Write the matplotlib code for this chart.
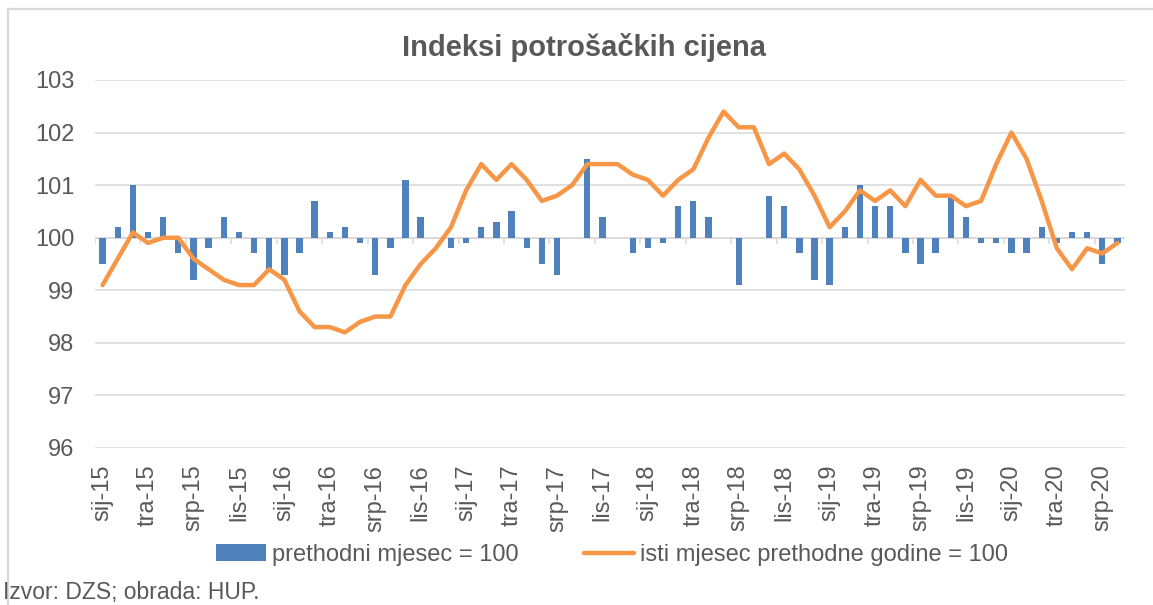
import numpy as np
import matplotlib.pyplot as plt
from matplotlib.lines import Line2D

# mjesečni podaci sij-15 ... kol-20
months = ['sij', 'velj', 'ožu', 'tra', 'svi', 'lip', 'srp', 'kol', 'ruj', 'lis', 'stu', 'pro']
years = [15, 16, 17, 18, 19, 20]
labels = [f'{m}-{y}' for y in years for m in months][:68]

prethodni = [99.5, 100.2, 101.0, 100.1, 100.4, 99.7, 99.2, 99.8, 100.4, 100.1, 99.7, 99.4,
             99.3, 99.7, 100.7, 100.1, 100.2, 99.9, 99.3, 99.8, 101.1, 100.4, 100.0, 99.8,
             99.9, 100.2, 100.3, 100.5, 99.8, 99.5, 99.3, 100.0, 101.5, 100.4, 100.0, 99.7,
             99.8, 99.9, 100.6, 100.7, 100.4, 100.0, 99.1, 100.0, 100.8, 100.6, 99.7, 99.2,
             99.1, 100.2, 101.0, 100.6, 100.6, 99.7, 99.5, 99.7, 100.8, 100.4, 99.9, 99.9,
             99.7, 99.7, 100.2, 99.9, 100.1, 100.1, 99.5, 99.9]
isti = [99.1, 99.6, 100.1, 99.9, 100.0, 100.0, 99.6, 99.4, 99.2, 99.1, 99.1, 99.4,
        99.2, 98.6, 98.3, 98.3, 98.2, 98.4, 98.5, 98.5, 99.1, 99.5, 99.8, 100.2,
        100.9, 101.4, 101.1, 101.4, 101.1, 100.7, 100.8, 101.0, 101.4, 101.4, 101.4, 101.2,
        101.1, 100.8, 101.1, 101.3, 101.9, 102.4, 102.1, 102.1, 101.4, 101.6, 101.3, 100.8,
        100.2, 100.5, 100.9, 100.7, 100.9, 100.6, 101.1, 100.8, 100.8, 100.6, 100.7, 101.4,
        102.0, 101.5, 100.7, 99.8, 99.4, 99.8, 99.7, 99.9]

TXT = '#595959'
GRID = '#d9d9d9'
BLUE = '#4f81bd'
ORANGE = '#f79646'

plt.rcParams['font.family'] = ['Liberation Sans', 'DejaVu Sans']

fig = plt.figure(figsize=(11.53, 6.05), dpi=100)
ax = fig.add_axes([95 / 1153, 1 - 448 / 605, (1125 - 95) / 1153, (448 - 80) / 605])

x = np.arange(len(labels))
base = 100
bars = ax.bar(x, np.array(prethodni) - base, bottom=base, width=0.42, color=BLUE,
              zorder=3, label='prethodni mjesec = 100')
line, = ax.plot(x, isti, color=ORANGE, lw=3.2, solid_joinstyle='round',
                solid_capstyle='round', zorder=4, label='isti mjesec prethodne godine = 100')

# os kategorija siječe na 100, kvačice svaka 3 mjeseca
ax.axhline(base, color=GRID, lw=1.1, zorder=2)
ax.vlines(np.arange(-0.5, len(labels), 3), base - 0.12, base, color=GRID, lw=1.1, zorder=2)

ax.set_xlim(-0.5, len(labels) - 0.5)
ax.set_ylim(96, 103)
ax.set_yticks(range(96, 104))
ax.set_xticks(x[::3])
ax.set_xticklabels(labels[::3], rotation=90, fontsize=17, color=TXT)
ax.tick_params(axis='x', length=0, pad=12)
ax.tick_params(axis='y', length=0, pad=15, labelsize=17, labelcolor=TXT)
ax.grid(axis='y', color=GRID, lw=1.1, zorder=0)
ax.set_axisbelow(True)
for s in ax.spines.values():
    s.set_visible(False)

fig.text(584 / 1153, 1 - 47 / 605, 'Indeksi potrošačkih cijena', ha='center', va='center',
         fontsize=21, fontweight='bold', color=TXT)

fig.legend([bars, line], [bars.get_label(), line.get_label()], loc='center',
           bbox_to_anchor=(612 / 1153, 1 - 555 / 605), ncol=2, frameon=False, fontsize=17,
           handlelength=2.1, handletextpad=0.25, columnspacing=2.8, labelcolor=TXT)

fig.text(3 / 1153, 1 - 593 / 605, 'Izvor: DZS; obrada: HUP.', ha='left', va='center',
         fontsize=16.5, color=TXT)

# okvir grafikona (gore i lijevo)
fig.add_artist(Line2D([8 / 1153, 1], [1 - 9 / 605] * 2, color=GRID, lw=1.6))
fig.add_artist(Line2D([8 / 1153] * 2, [0, 1 - 9 / 605], color=GRID, lw=1.6))

fig.savefig('out.png', dpi=100)
